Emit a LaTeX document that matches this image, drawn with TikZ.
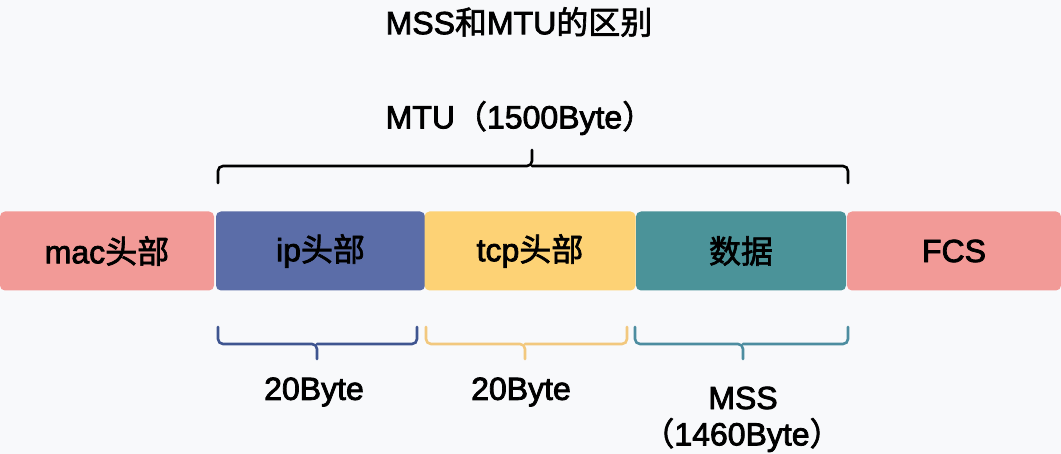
\documentclass[tikz,border=0pt]{standalone}
\usepackage{fontspec}
\setmainfont{Liberation Sans}[FakeBold=2.5]
\newfontfamily\cjk{Noto Sans CJK SC}[FakeBold=2]
\usetikzlibrary{calc}
\definecolor{bg}{HTML}{F8F9FB}
\definecolor{pinkc}{HTML}{F29A97}
\definecolor{bluec}{HTML}{5B6DA8}
\definecolor{yelc}{HTML}{FDD275}
\definecolor{tealc}{HTML}{4B9399}
\definecolor{bblue}{HTML}{3F5590}
\definecolor{byel}{HTML}{F2C87E}
\definecolor{bteal}{HTML}{4D8DA0}
\tikzset{
  seg/.style={rectangle, rounded corners=5pt, minimum width=#1, minimum height=79pt, inner sep=0pt,
    font=\fontsize{32}{38}\selectfont, text=black},
  lbl/.style={font=\fontsize{32}{38}\selectfont, inner sep=0pt, text=black},
  brace/.style={line width=2.6pt, rounded corners=5pt, line cap=round}
}
\begin{document}
\begin{tikzpicture}[x=1pt,y=-1pt]
\fill[bg] (0,0) rectangle (1061,454);
\useasboundingbox (0,0) rectangle (1061,454);

\node[lbl] (title) at (519,22) {MSS{\cjk 和}MTU{\cjk 的区别}};
\node[lbl] (mtu) at (520,118) {MTU{\cjk （}1500Byte{\cjk ）}};

\node[seg=214pt, fill=pinkc] (mac) at (107,251) {mac{\cjk 头部}};
\node[seg=209pt, fill=bluec] (ip) at (320.5,251) {ip{\cjk 头部}};
\node[seg=211pt, fill=yelc] (tcp) at (530,251) {tcp{\cjk 头部}};
\node[seg=210pt, fill=tealc] (data) at (741,251) {\cjk 数据};
\node[seg=214pt, fill=pinkc] (fcs) at (954,251) {FCS};

% MTU brace
\draw[brace, black] (218,183) -- (218,166) -- (532,166) -- (532,150);
\draw[brace, black] (532,166) -- (848,166) -- (848,183);

% lower braces
\draw[brace, bblue] (218,327) -- (218,344) -- (317,344) -- (317,359);
\draw[brace, bblue] (317,344) -- (417,344) -- (417,327);
\draw[brace, byel] (426,327) -- (426,344) -- (525,344) -- (525,359);
\draw[brace, byel] (525,344) -- (627,344) -- (627,327);
\draw[brace, bteal] (635,327) -- (635,344) -- (743,344) -- (743,359);
\draw[brace, bteal] (743,344) -- (848,344) -- (848,327);

\node[lbl] (l1) at (314,392) {20Byte};
\node[lbl] (l2) at (521,392) {20Byte};
\node[lbl] (l3) at (743,398) {MSS};
\node[lbl] (l4) at (742,435) {{\cjk （}1460Byte{\cjk ）}};
\end{tikzpicture}
\end{document}
